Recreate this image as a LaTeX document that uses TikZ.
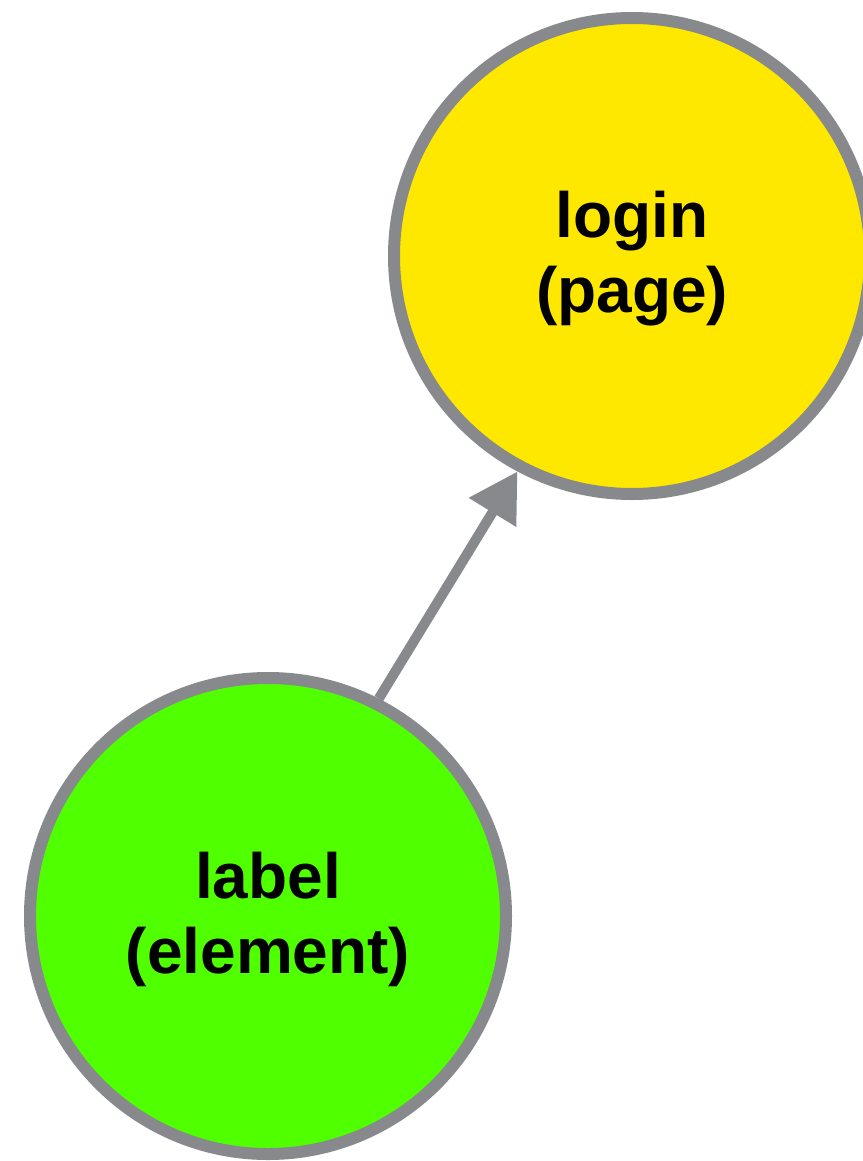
\documentclass[tikz,border=0pt]{standalone}
\usepackage{fontspec}
\setmainfont{Liberation Sans}
\usepackage{tikz}
\usetikzlibrary{arrows.meta}

\definecolor{edgegray}{HTML}{87898D}
\definecolor{pageyellow}{HTML}{FFE800}
\definecolor{elemgreen}{HTML}{50FF00}

\begin{document}
\begin{tikzpicture}[x=0.5pt,y=-0.5pt]
      \tikzstyle{every node}=[draw=edgegray,shape=circle,line width=6pt,minimum size=238pt,inner sep=0pt,
        align=center,font=\fontsize{32}{37.5}\selectfont\bfseries]

      \useasboundingbox (0,0) rectangle (862,1161);

      \node[fill=pageyellow] (login) at (632,256) {};
      \node[draw=none,fill=none,minimum size=0pt] (logintext) at (632,259) {login\\(page)};
      \node[fill=elemgreen] (label) at (268,916) {};
      \node[draw=none,fill=none,minimum size=0pt] (labeltext) at (268,919) {label\\(element)};

      \draw[edgegray,line width=5pt,-{Triangle[length=24pt,width=26.5pt]}] (label.63.5) -- (login.242);

    \end{tikzpicture}
\end{document}
